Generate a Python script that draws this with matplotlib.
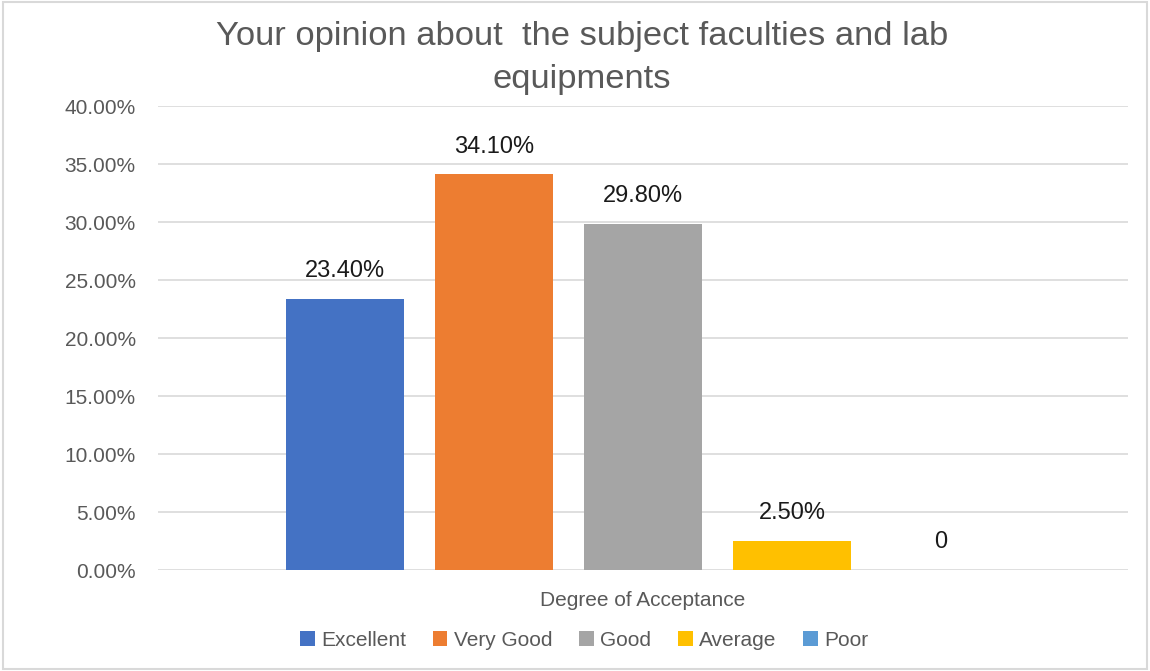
import matplotlib.pyplot as plt
from matplotlib.patches import Rectangle

series = ["Excellent", "Very Good", "Good", "Average", "Poor"]
values = [23.4, 34.1, 29.8, 2.5, 0.0]
labels = ["23.40%", "34.10%", "29.80%", "2.50%", "0"]
colors = ["#4472C4", "#ED7D31", "#A5A5A5", "#FFC000", "#5B9BD5"]
yticks = [0, 5, 10, 15, 20, 25, 30, 35, 40]

plt.rcParams['font.family'] = ['Liberation Sans', 'DejaVu Sans']

fig = plt.figure(figsize=(11.5, 6.71), dpi=100)
ax = fig.add_axes([0.1374, 0.1505, 0.8436, 0.6915])

positions = [i - 2 for i in range(len(series))]
for pos, v, lab, c, name in zip(positions, values, labels, colors, series):
    ax.bar(pos, v, width=0.792, color=c, label=name, zorder=3)
    ax.text(pos, v + 2.4, lab, ha='center', va='center', fontsize=17, color='#1a1a1a')

ax.set_xlim(-3.255, 3.255)
ax.set_ylim(0, 40)
ax.set_yticks(yticks)
ax.set_yticklabels([f"{t:.2f}%" for t in yticks], fontsize=15, color='#595959')
ax.set_xticks([])
ax.tick_params(axis='y', length=0, pad=16)
ax.grid(axis='y', color='#d9d9d9', linewidth=1.2, zorder=0)
for s in ax.spines.values():
    s.set_visible(False)

fig.text(0.559, 0.105, "Degree of Acceptance", ha='center', va='center', fontsize=15, color='#595959')
fig.text(0.506, 0.945, "Your opinion about  the subject faculties and lab", ha='center', va='center',
         fontsize=24.8, color='#595959')
fig.text(0.506, 0.881, "equipments", ha='center', va='center', fontsize=24.8, color='#595959')

fig.legend(loc='center', bbox_to_anchor=(0.508, 0.046), ncol=5, frameon=False, fontsize=15,
           handlelength=0.7, handleheight=0.7, handletextpad=0.3, columnspacing=1.3,
           labelcolor='#595959')

fig.patches.append(Rectangle((0.003, 0.003), 0.994, 0.994, transform=fig.transFigure,
                             fill=False, edgecolor='#d9d9d9', linewidth=1.5))

fig.savefig("out.png", dpi=100)
